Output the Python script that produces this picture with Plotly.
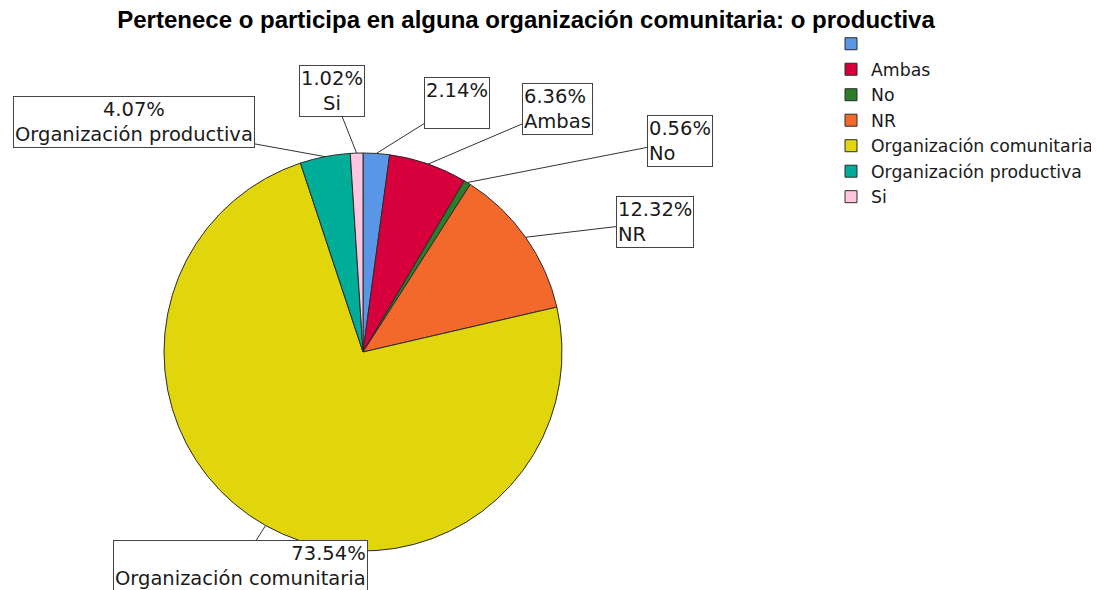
import math
import plotly.graph_objects as go

# ---- data ----
categories = [" ", "Ambas", "No", "NR", "Organización comunitaria", "Organización productiva", "Si"]
percents = [2.14, 6.36, 0.56, 12.32, 73.54, 4.07, 1.02]
colors = ["#5a96e6", "#d7003c", "#2a7e2a", "#f2692b", "#e1d60c", "#00ad99", "#ffc6e1"]
title_text = "Pertenece o participa en alguna organización comunitaria: o productiva"

# ---- layout constants (pixels, in screenshot space; page body adds 8px offset) ----
OFF = 8
W, H = 1099, 590
CX, CY, R = 363 - OFF, 352 - OFF, 199

# label box centers (screenshot pixels) and text alignment, per category
box_pos = [(457, 103), (557, 109), (680, 141), (655, 222), (240, 566), (134, 122), (332, 91)]
box_align = ["left", "left", "left", "left", "right", "center", "center"]

fig = go.Figure()
fig.add_trace(go.Pie(
    labels=categories,
    values=percents,
    sort=False,
    direction="clockwise",
    rotation=0,
    textinfo="none",
    hoverinfo="label+percent",
    marker=dict(colors=colors, line=dict(color="#2b2b2b", width=1)),
    domain=dict(x=[(CX - R) / W, (CX + R) / W], y=[1 - (CY + R) / H, 1 - (CY - R) / H]),
))

total = sum(percents)
annotations = []
cum = 0.0
for lab, v, (bx, by), al in zip(categories, percents, box_pos, box_align):
    bx, by = bx - OFF, by - OFF
    mid = (cum + v / 2) / total * 2 * math.pi
    cum += v
    tx = CX + R * math.sin(mid)
    ty = CY - R * math.cos(mid)
    second = lab if lab.strip() else "&nbsp;"
    annotations.append(dict(
        x=tx / W, y=1 - ty / H, xref="paper", yref="paper",
        ax=bx - tx, ay=by - ty, axref="pixel", ayref="pixel",
        text=f"{v:.2f}%<br>{second}",
        showarrow=True, arrowhead=0, arrowwidth=1, arrowcolor="#333333",
        align=al,
        font=dict(family="DejaVu Sans", size=19.5, color="#1a1a1a"),
        bordercolor="#444444", borderwidth=1, borderpad=1, bgcolor="white",
    ))

fig.update_layout(
    width=W, height=H,
    margin=dict(l=0, r=0, t=0, b=0),
    paper_bgcolor="white", plot_bgcolor="white",
    title=dict(text=title_text, x=(526 - OFF) / W, xanchor="center", y=1 - 3 / H, yanchor="top",
               font=dict(family="Liberation Sans", size=24, color="black", weight="bold")),
    legend=dict(x=(831 - OFF) / W, xanchor="left", y=1 - (26 - OFF) / H, yanchor="top",
                font=dict(family="DejaVu Sans", size=17.3, color="#1a1a1a"),
                traceorder="normal", bgcolor="rgba(0,0,0,0)"),
    annotations=annotations,
    showlegend=True,
)

fig.write_html("out.html")
